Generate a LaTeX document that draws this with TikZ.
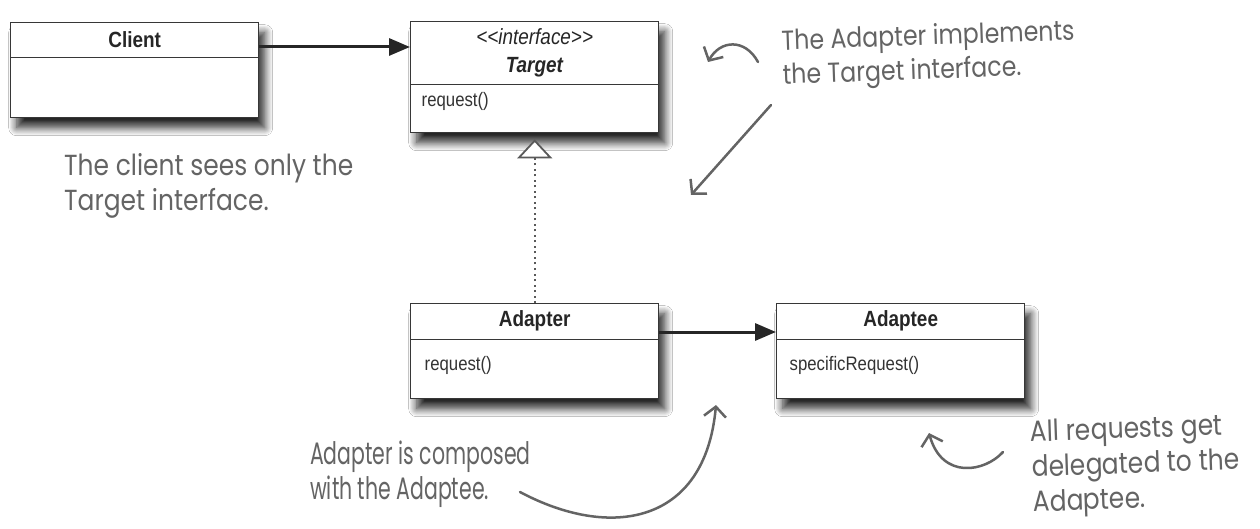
\documentclass[tikz,border=0pt]{standalone}
\usepackage{fontspec}
\usepackage{tikz}
\usetikzlibrary{arrows.meta,positioning,shadows.blur}
\newfontfamily\umlfont[FakeStretch=0.86]{Liberation Sans}
\newfontfamily\handfont[FakeStretch=0.86]{Poppins}
\newfontfamily\handnarrow[FakeStretch=0.66]{Poppins}
\definecolor{boxline}{RGB}{55,55,55}
\definecolor{pencil}{RGB}{100,100,100}

\begin{document}
\begin{tikzpicture}[
x=1pt, y=-1pt,
classbox/.style={draw=boxline, line width=1.4pt, fill=white, minimum width=248pt, inner sep=0pt, anchor=north west, blur shadow={shadow xshift=6pt, shadow yshift=-10pt, shadow blur radius=8pt, shadow blur steps=10, shadow opacity=85}},
classhead/.style={anchor=north, minimum width=248pt, inner sep=0pt, align=center, text=black!85, font=\umlfont\bfseries\fontsize{22}{28}\selectfont},
classop/.style={anchor=west, inner sep=0pt, text=black!80, font=\umlfont\fontsize{19.5}{22}\selectfont},
divider/.style={draw=boxline, line width=1.4pt},
assoc/.style={-{Triangle[length=21pt, width=17pt]}, line width=3pt, draw=black!85},
realize/.style={-{Triangle[open, length=19pt, width=35pt, line width=1.8pt, fill=white]}, line width=2.2pt, dash pattern=on 2pt off 3.5pt, draw=black!65, shorten >=6pt},
note/.style={anchor=north west, inner sep=0pt, align=left, text=pencil, font=\handfont\fontsize{29}{35}\selectfont},
pencilarrow/.style={-{Straight Barb[length=10pt, width=22pt, line width=2.5pt]}, line width=2.5pt, line cap=round, draw=pencil}
]
\fill[white] (0,0) rectangle (1260,529);
\useasboundingbox (0,0) rectangle (1260,529);
% classes
\node[classbox, minimum height=95pt] (client) at (10,22) {};
\node[classbox, minimum height=111pt] (target) at (410,21) {};
\node[classbox, minimum height=95pt] (adapter) at (410,303) {};
\node[classbox, minimum height=95pt] (adaptee) at (776,303) {};
\node[classhead, minimum height=35pt] (clienthd) at (client.north) {Client};
\node[classhead, minimum height=63pt] (targethd) at (target.north) {{\mdseries\itshape <<interface>>}\\\textit{Target}};
\node[classhead, minimum height=36pt] (adapterhd) at (adapter.north) {Adapter};
\node[classhead, minimum height=36pt] (adapteehd) at (adaptee.north) {Adaptee};
\foreach \c in {clienthd,targethd,adapterhd,adapteehd}
  \draw[divider] (\c.south west) -- (\c.south east);
\node[classop] (targetop) at ([xshift=11pt, yshift=-17pt]targethd.south west) {request()};
\node[classop] (adapterop) at ([xshift=14pt, yshift=-26pt]adapterhd.south west) {request()};
\node[classop] (adapteeop) at ([xshift=13pt, yshift=-26pt]adapteehd.south west) {specificRequest()};
% relations
\coordinate (clientout) at ([yshift=-25pt]client.north east);
\coordinate (adapterout) at ([yshift=-29pt]adapter.north east);
\draw[assoc] (clientout) -- (clientout -| target.west);
\draw[assoc] (adapterout) -- (adapterout -| adaptee.west);
\draw[realize] (adapter.north) -- (target.south);
% notes
\node[note] (clientnote) at (64,153) {The client sees only the\\Target interface.};
\node[note, rotate=2, font=\handfont\fontsize{27.5}{34}\selectfont] (implnote) at (781,29) {The Adapter implements\\the Target interface.};
\node[note, font=\handnarrow\fontsize{31}{35}\selectfont] (compnote) at (310,441) {Adapter is composed\\with the Adaptee.};
\node[note, rotate=2] (delnote) at (1030,420) {All requests get\\delegated to the\\Adaptee.};
\coordinate (implfrom) at (758,62);
\coordinate (implto) at (708,62);
\coordinate (impldown) at (771,105);
\coordinate (impltip) at (691,195);
\coordinate (compfrom) at (520,492);
\coordinate (comptip) at (716,405);
\coordinate (delfrom) at (1003,452);
\coordinate (deltip) at (929,433);
\draw[pencilarrow] (implfrom) .. controls (745,38) and (720,40) .. (implto);
\draw[pencilarrow] (impldown) -- (impltip);
\draw[pencilarrow] (compfrom) .. controls (610,540) and (705,525) .. (comptip);
\draw[pencilarrow] (delfrom) .. controls (985,472) and (942,480) .. (deltip);
\end{tikzpicture}
\end{document}
